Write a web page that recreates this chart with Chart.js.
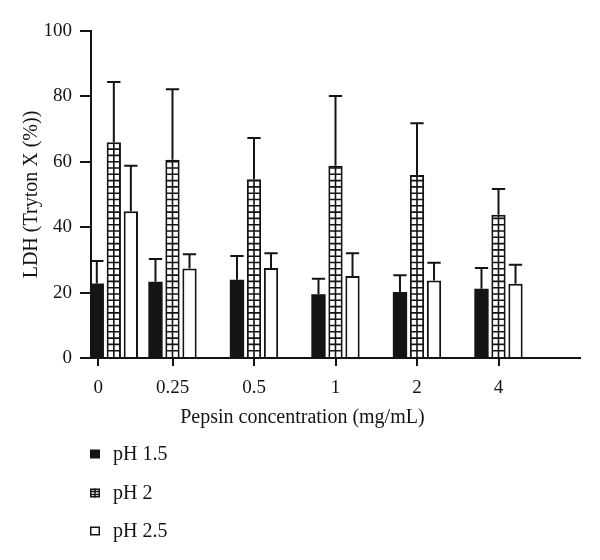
<!DOCTYPE html>
<html>
<head>
<meta charset="utf-8">
<script src="https://cdn.jsdelivr.net/npm/chart.js@4/dist/chart.umd.min.js"></script>
<style>
  html, body { margin: 0; padding: 0; background: #fff; }
  #wrap { width: 600px; height: 560px; }
</style>
</head>
<body>
<div id="wrap"><canvas id="ldh-chart" width="600" height="560"></canvas></div>
<script>
// Gegevens uit de figuur
const categories = ['0', '0.25', '0.5', '1', '2', '4'];
const seriesNames = ['pH 1.5', 'pH 2', 'pH 2.5'];
const ph15 = [22.8, 23.3, 23.9, 19.5, 20.2, 21.2];
const ph2 = [66.0, 60.6, 54.7, 58.8, 56.0, 43.8];
const ph25 = [44.9, 27.4, 27.5, 25.1, 23.7, 22.7];
const ph15Sd = [6.9, 7.0, 7.3, 4.7, 5.1, 6.3];
const ph2Sd = [18.4, 21.6, 12.6, 21.3, 15.8, 7.9];
const ph25Sd = [13.9, 4.3, 4.5, 6.9, 5.4, 5.8];
const yTicks = [0, 20, 40, 60, 80, 100];

// Opmaak: de eerste groep staat in het origineel tegen de y-as aan
const groupX = [0.28, 1, 2, 3, 4, 5];
const tickX = [0.09, 1, 2, 3, 4, 5];
const ink = '#141414';
const serif = '"Liberation Serif", "Times New Roman", serif';

const allSd = [ph15Sd, ph2Sd, ph25Sd];
const toPoints = arr => arr.map((v, i) => ({ x: groupX[i], y: v }));

// Arcering (raster) in de pH 2 staven
const hatchPlugin = {
    id: 'hatch',
    afterDatasetsDraw(chart) {
        const ctx = chart.ctx;
        const meta = chart.getDatasetMeta(1);
        ctx.save();
        ctx.strokeStyle = ink;
        ctx.lineWidth = 1.6;
        meta.data.forEach(bar => {
            const { x, y, base, width } = bar.getProps(['x', 'y', 'base', 'width'], true);
            const left = x - width / 2, right = x + width / 2;
            ctx.save();
            ctx.beginPath();
            ctx.rect(left + 1, y + 1, width - 2, base - y - 1);
            ctx.clip();
            ctx.beginPath();
            ctx.moveTo(x, y);
            ctx.lineTo(x, base);
            for (let yy = base - 6.3; yy > y; yy -= 6.3) {
                ctx.moveTo(left, yy);
                ctx.lineTo(right, yy);
            }
            ctx.stroke();
            ctx.restore();
        });
        ctx.restore();
    }
};

// Foutbalken (alleen naar boven)
const errorBarPlugin = {
    id: 'errorBars',
    afterDatasetsDraw(chart) {
        const ctx = chart.ctx;
        const yScale = chart.scales.y;
        ctx.save();
        ctx.strokeStyle = ink;
        ctx.lineWidth = 2;
        chart.data.datasets.forEach((ds, di) => {
            const meta = chart.getDatasetMeta(di);
            meta.data.forEach((bar, i) => {
                const top = yScale.getPixelForValue(ds.data[i].y + allSd[di][i]);
                const half = bar.width / 2 - 0.5;
                const cx = bar.x;
                ctx.beginPath();
                ctx.moveTo(cx, bar.y);
                ctx.lineTo(cx, top);
                ctx.moveTo(cx - half, top);
                ctx.lineTo(cx + half, top);
                ctx.stroke();
            });
        });
        ctx.restore();
    }
};

// x-as titel en legenda onder de grafiek
const bottomPlugin = {
    id: 'bottomText',
    afterDraw(chart) {
        const ctx = chart.ctx;
        const xScale = chart.scales.x;
        const first = xScale.getPixelForValue(tickX[0]);
        const last = xScale.getPixelForValue(tickX[tickX.length - 1]);
        ctx.save();
        ctx.fillStyle = ink;
        ctx.font = '20px ' + serif;
        ctx.textAlign = 'center';
        ctx.textBaseline = 'alphabetic';
        ctx.fillText('Pepsin concentration (mg/mL)', (first + last) / 2 + 4, 423);

        ctx.textAlign = 'left';
        ctx.textBaseline = 'middle';
        const rows = [454, 493, 531];
        seriesNames.forEach((name, i) => {
            const cy = rows[i];
            const bx = 90, by = cy - 4.5, bw = 10, bh = 9;
            ctx.lineWidth = 1.5;
            ctx.strokeStyle = ink;
            if (i === 0) {
                ctx.fillRect(bx, by, bw, bh);
            } else {
                ctx.strokeRect(bx + 0.75, by + 0.75, bw - 1.5, bh - 1.5);
                if (i === 1) {
                    ctx.beginPath();
                    ctx.moveTo(bx + bw / 2, by);
                    ctx.lineTo(bx + bw / 2, by + bh);
                    ctx.moveTo(bx, by + bh / 3);
                    ctx.lineTo(bx + bw, by + bh / 3);
                    ctx.moveTo(bx, by + 2 * bh / 3);
                    ctx.lineTo(bx + bw, by + 2 * bh / 3);
                    ctx.stroke();
                }
            }
            ctx.fillText(name, 113, cy + 1);
        });
        ctx.restore();
    }
};

const ctx = document.getElementById('ldh-chart').getContext('2d');
const ldhChart = new Chart(ctx, {
    type: 'bar',
    data: {
        datasets: [{
            label: seriesNames[0],
            data: toPoints(ph15),
            backgroundColor: ink,
            borderColor: ink,
            borderWidth: 0
        }, {
            label: seriesNames[1],
            data: toPoints(ph2),
            backgroundColor: '#ffffff',
            borderColor: ink,
            borderWidth: 2,
            borderSkipped: 'bottom'
        }, {
            label: seriesNames[2],
            data: toPoints(ph25),
            backgroundColor: '#ffffff',
            borderColor: ink,
            borderWidth: 2,
            borderSkipped: 'bottom'
        }]
    },
    options: {
        responsive: false,
        animation: false,
        devicePixelRatio: 1,
        categoryPercentage: 0.87,
        barPercentage: 0.84,
        layout: { padding: { left: 0, right: 20, top: 31, bottom: 0 } },
        plugins: {
            legend: { display: false },
            tooltip: { enabled: false }
        },
        scales: {
            x: {
                type: 'linear',
                min: 0,
                max: 6,
                offset: false,
                grid: { offset: false, drawOnChartArea: false, drawTicks: true, tickLength: 8, color: ink, lineWidth: 2 },
                border: { display: true, color: ink, width: 2 },
                afterBuildTicks: scale => { scale.ticks = tickX.map(v => ({ value: v })); },
                afterFit: scale => { scale.height = 202; },
                ticks: {
                    autoSkip: false,
                    maxRotation: 0,
                    padding: 11,
                    color: ink,
                    font: { family: serif, size: 19 },
                    callback: (v, i) => categories[i]
                }
            },
            y: {
                min: 0,
                max: 100,
                afterBuildTicks: scale => { scale.ticks = yTicks.map(v => ({ value: v })); },
                afterFit: scale => { scale.width = 91; },
                grid: { drawOnChartArea: false, drawTicks: true, tickLength: 11, color: ink, lineWidth: 2 },
                border: { display: true, color: ink, width: 2 },
                ticks: {
                    padding: 8,
                    color: ink,
                    font: { family: serif, size: 19 }
                },
                title: {
                    display: true,
                    text: 'LDH (Tryton X (%))',
                    color: ink,
                    font: { family: serif, size: 20 },
                    padding: { top: 20, bottom: 0 }
                }
            }
        }
    },
    plugins: [hatchPlugin, errorBarPlugin, bottomPlugin]
});
</script>
</body>
</html>
